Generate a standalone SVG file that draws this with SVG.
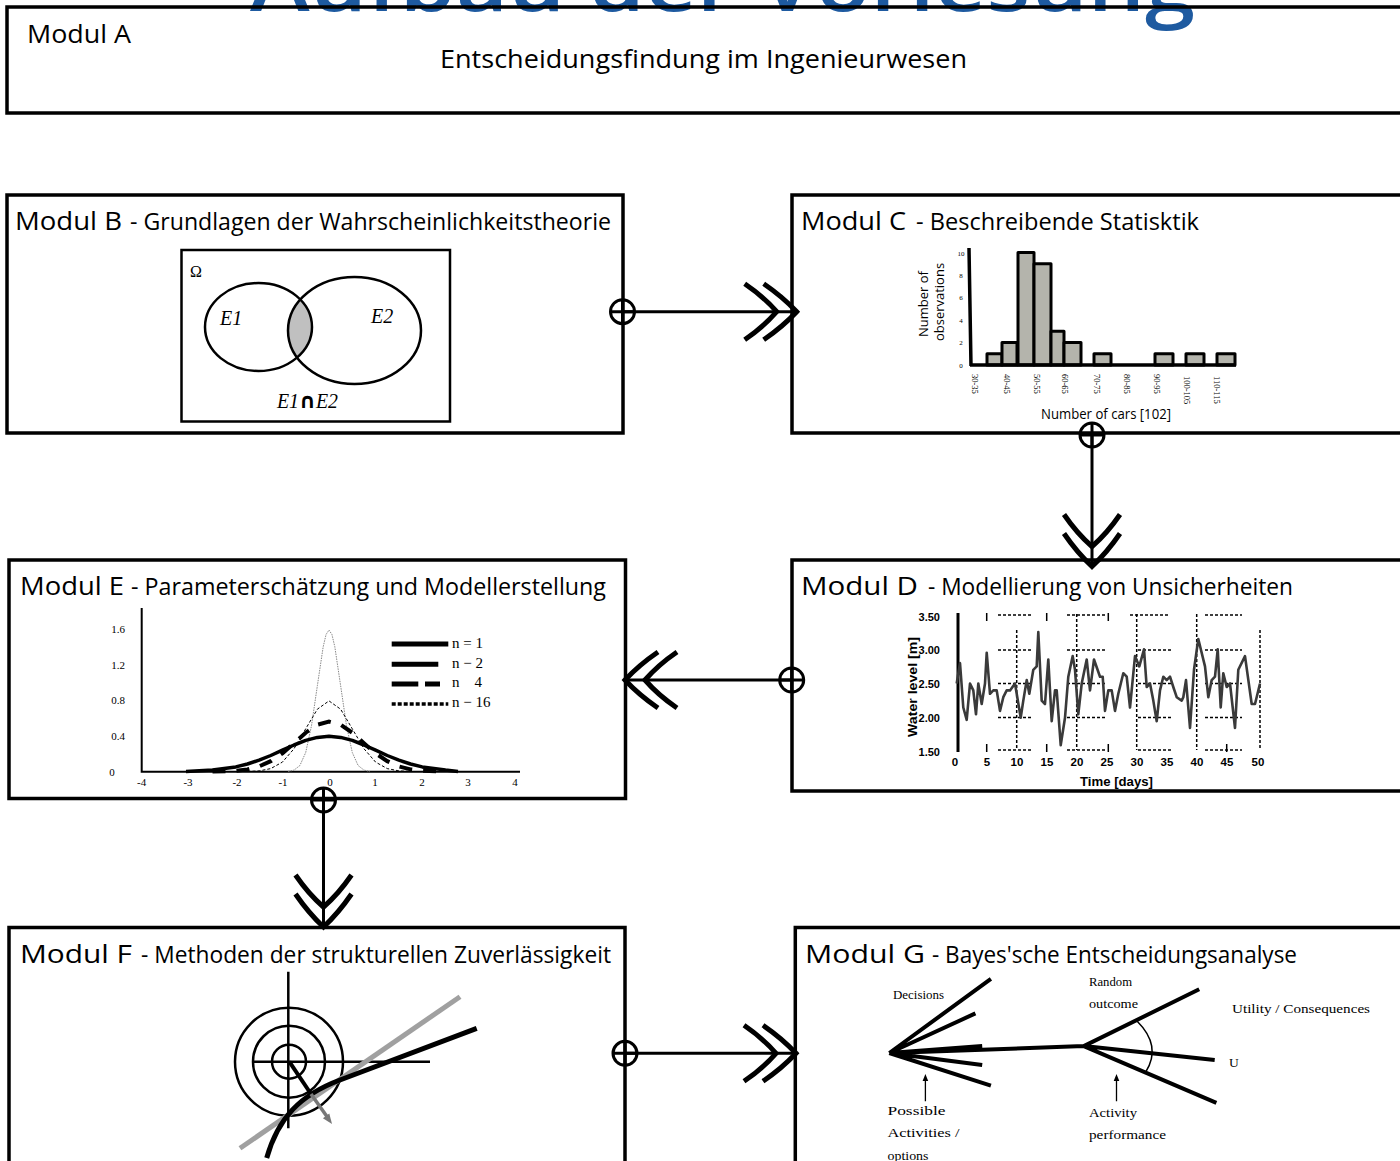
<svg xmlns="http://www.w3.org/2000/svg" width="1400" height="1161" viewBox="0 0 1400 1161">
<style>
.box{fill:none;stroke:#000;stroke-width:3.5}
.mt{font-family:'Open Sans','Liberation Sans',sans-serif;font-size:26px;fill:#000}
.st{font-family:'Open Sans','Liberation Sans',sans-serif;font-size:23px;fill:#000}
.sf{font-family:'Liberation Serif','Times New Roman',serif;fill:#000}
.ss{font-family:'Open Sans','Liberation Sans',sans-serif;fill:#000}
.bd{font-family:'Liberation Sans',Arial,sans-serif;font-weight:bold;fill:#000}
.bar{fill:#b4b4ac;stroke:#000;stroke-width:3;stroke-linejoin:round}
.grid{fill:none;stroke:#000;stroke-width:1.5;stroke-dasharray:3 2}
.conn{fill:none;stroke:#000;stroke-width:3;marker-end:url(#chev)}
.br{fill:none;stroke:#000;stroke-width:4;stroke-linecap:butt}
</style>
<defs>
<marker id="chev" markerUnits="userSpaceOnUse" viewBox="-60 -36 66 72" markerWidth="66" markerHeight="72" refX="0" refY="0" orient="auto" overflow="visible">
<path d="M-52,-28 Q-33,-15 -20,0 Q-33,15 -52,28 M-33,-28 Q-14,-15 0,0 Q-14,15 -33,28" fill="none" stroke="#000" stroke-width="5"/>
</marker>
<g id="jn"><circle r="12" fill="none" stroke="#000" stroke-width="3"/><path d="M-12,0H12M0,-12V12" stroke="#000" stroke-width="3"/></g>
<clipPath id="e1clip"><ellipse cx="258.5" cy="327" rx="53.5" ry="44"/></clipPath>
</defs>
<rect width="1400" height="1161" fill="#fff"/>

<text x="250" y="11" font-family="'Open Sans','Liberation Sans',sans-serif" font-size="82" font-weight="600" fill="#1e5aa0" textLength="945" lengthAdjust="spacingAndGlyphs">Aufbau der Vorlesung</text>

<g id="modul-a">
<rect class="box" x="7" y="7" width="1410" height="106"/>
<text class="mt" x="27" y="43" textLength="104" lengthAdjust="spacingAndGlyphs">Modul A</text>
<text class="mt" x="440" y="68" textLength="527" lengthAdjust="spacingAndGlyphs">Entscheidungsfindung im Ingenieurwesen</text>
</g>

<g id="modul-b">
<rect class="box" x="7" y="195" width="616" height="238"/>
<text class="mt" x="15" y="230" textLength="107" lengthAdjust="spacingAndGlyphs">Modul B</text>
<text class="st" x="130" y="230" textLength="481" lengthAdjust="spacingAndGlyphs">- Grundlagen der Wahrscheinlichkeitstheorie</text>
<rect x="181.5" y="250" width="268.5" height="171.5" fill="none" stroke="#000" stroke-width="2.5"/>
<ellipse cx="354.5" cy="330.5" rx="66.5" ry="53.5" fill="#c0c0c0" clip-path="url(#e1clip)"/>
<ellipse cx="258.5" cy="327" rx="53.5" ry="44" fill="none" stroke="#000" stroke-width="2.5"/>
<ellipse cx="354.5" cy="330.5" rx="66.5" ry="53.5" fill="none" stroke="#000" stroke-width="2.5"/>
<text class="sf" x="190" y="277" font-size="16">Ω</text>
<text class="sf" x="220" y="325" font-size="20" font-style="italic">E1</text>
<text class="sf" x="371" y="323" font-size="20" font-style="italic">E2</text>
<text class="sf" x="277" y="408" font-size="20" font-style="italic" textLength="61" lengthAdjust="spacingAndGlyphs">E1<tspan font-family="'DejaVu Sans',sans-serif" font-weight="bold" font-style="normal" font-size="21">∩</tspan>E2</text>
</g>

<g id="modul-c">
<rect class="box" x="792" y="195" width="620" height="238"/>
<text class="mt" x="801" y="230" textLength="105" lengthAdjust="spacingAndGlyphs">Modul C</text>
<text class="st" x="916" y="230" textLength="283" lengthAdjust="spacingAndGlyphs">- Beschreibende Statisktik</text>
<g class="ss" font-size="13" text-anchor="middle">
<text transform="translate(928,304) rotate(-90)">Number of</text>
<text transform="translate(944,302) rotate(-90)">observations</text>
</g>
<g class="sf" font-size="7" text-anchor="middle">
<text x="961" y="368">0</text><text x="961" y="345">2</text><text x="961" y="323">4</text><text x="961" y="300">6</text><text x="961" y="278">8</text><text x="961" y="256">10</text>
</g>
<rect class="bar" x="987" y="353.75" width="15" height="11.25"/>
<rect class="bar" x="1002" y="342.5" width="15" height="22.5"/>
<rect class="bar" x="1018" y="252.5" width="16" height="112.5"/>
<rect class="bar" x="1034" y="263.75" width="17" height="101.25"/>
<rect class="bar" x="1051" y="331.25" width="13" height="33.75"/>
<rect class="bar" x="1064" y="342.5" width="17" height="22.5"/>
<rect class="bar" x="1094" y="353.75" width="17" height="11.25"/>
<rect class="bar" x="1155" y="353.75" width="18" height="11.25"/>
<rect class="bar" x="1186" y="353.75" width="18" height="11.25"/>
<rect class="bar" x="1217" y="353.75" width="18" height="11.25"/>
<path d="M969,248 L971,366 M970,365 H1236" fill="none" stroke="#000" stroke-width="3.5"/>
<g class="sf" font-size="8.5">
<text transform="translate(972,374) rotate(90)">30-35</text>
<text transform="translate(1004,374) rotate(90)">40-45</text>
<text transform="translate(1034,374) rotate(90)">50-55</text>
<text transform="translate(1062,374) rotate(90)">60-65</text>
<text transform="translate(1094,374) rotate(90)">70-75</text>
<text transform="translate(1124,374) rotate(90)">80-85</text>
<text transform="translate(1154,374) rotate(90)">90-95</text>
<text transform="translate(1184,376) rotate(90)">100-105</text>
<text transform="translate(1214,376) rotate(90)">110-115</text>
</g>
<text class="ss" x="1041" y="419" font-size="14" textLength="130" lengthAdjust="spacingAndGlyphs">Number of cars [102]</text>
</g>

<g id="modul-d">
<rect class="box" x="792" y="560" width="620" height="231"/>
<text class="mt" x="801" y="595" textLength="117" lengthAdjust="spacingAndGlyphs">Modul D</text>
<text class="st" x="928" y="595" textLength="365" lengthAdjust="spacingAndGlyphs">- Modellierung von Unsicherheiten</text>
<g class="grid">
<path d="M1016.7,630V750M1076.7,614V750M1136.7,614V750M1196.7,614V750M1260,630V750"/>
<path d="M998,615H1033M1067,615H1107M1130,615H1170M1205,615H1242"/>
<path d="M998,650H1033M1067,650H1107M1138,650H1173M1205,650H1242"/>
<path d="M998,683.5H1033M1067,683.5H1107M1138,683.5H1173M1205,683.5H1242"/>
<path d="M998,717.5H1033M1067,717.5H1107M1138,717.5H1173M1205,717.5H1242"/>
<path d="M998,750H1033M1067,750H1107M1138,750H1173M1205,750H1242"/>
</g>
<path d="M986.7,613V621M1046.7,613V621M1108.3,613V621M986.7,744V752M1046.7,744V752M1108.3,744V752M1226.7,744V752" stroke="#000" stroke-width="1.5"/>
<path d="M958,613V752" stroke="#000" stroke-width="3"/>
<polyline fill="none" stroke="#3a3a3a" stroke-width="2.6" stroke-linejoin="round" points="956.7,683.5 960,663 963.3,707.5 966.7,719.8 970,683.5 973.3,690.4 976,714.3 978.3,683.5 981.7,704 985,683.5 986.7,652.7 990,693.8 993.3,690.4 996.7,690.4 1000,710.9 1003.3,697.2 1006.7,690.4 1010,690.4 1015,683.5 1020.7,717.8 1023.3,700.6 1026.7,680.1 1029.3,693.8 1033.3,669.8 1036.7,666.4 1038.3,632.1 1041.7,700.6 1045,704 1048.3,659.5 1051.7,721.2 1055,690.4 1056.7,690.4 1060.7,745.2 1065,717.8 1068.3,676.7 1072.7,656.1 1075,669.8 1078.3,714.3 1081.7,683.5 1086.7,659.5 1090,690.4 1094,659.5 1100,676.7 1102.7,676.7 1105,710.9 1108.3,690.4 1111.7,690.4 1115,710.9 1118.3,693.8 1123.3,673.2 1126.7,676.7 1130,707.5 1135,656.1 1139.3,666.4 1144,649.3 1146.7,687 1150,683.5 1153.3,700.6 1156.7,721.2 1160,690.4 1163.3,676.7 1166.7,680.1 1170,676.7 1173.3,687 1176.7,697.2 1181.7,700.6 1183.3,697.2 1186,680.1 1190,728 1194,669.8 1198.3,639 1205,666.4 1208.3,697.2 1211.7,680.1 1215,676.7 1217.7,649.3 1220.7,707.5 1223.3,673.2 1226.7,687 1230,683.5 1235,728 1238.3,669.8 1245,656.1 1251.7,704 1255,704 1260,683.5"/>
<g class="bd" font-size="11" text-anchor="end">
<text x="940" y="621">3.50</text><text x="940" y="654">3.00</text><text x="940" y="687.5">2.50</text><text x="940" y="721.5">2.00</text><text x="940" y="755.5">1.50</text>
</g>
<g class="bd" font-size="11.5" text-anchor="middle">
<text x="955" y="766">0</text><text x="987" y="766">5</text><text x="1017" y="766">10</text><text x="1047" y="766">15</text><text x="1077" y="766">20</text><text x="1107" y="766">25</text><text x="1137" y="766">30</text><text x="1167" y="766">35</text><text x="1197" y="766">40</text><text x="1227" y="766">45</text><text x="1258" y="766">50</text>
</g>
<text class="bd" font-size="12" transform="translate(916.5,737) rotate(-90)" textLength="100" lengthAdjust="spacingAndGlyphs">Water level [m]</text>
<text class="bd" x="1080" y="786" font-size="13" textLength="73" lengthAdjust="spacingAndGlyphs">Time [days]</text>
</g>

<g id="modul-e">
<rect class="box" x="9" y="560" width="616.5" height="238.5"/>
<text class="mt" x="20" y="595" textLength="104" lengthAdjust="spacingAndGlyphs">Modul E</text>
<text class="st" x="131" y="595" textLength="475" lengthAdjust="spacingAndGlyphs">- Parameterschätzung und Modellerstellung</text>
<path d="M141.7,608V771.7H520" fill="none" stroke="#000" stroke-width="2"/>
<g class="sf" font-size="11" text-anchor="middle">
<text x="118" y="633">1.6</text><text x="118" y="669">1.2</text><text x="118" y="704">0.8</text><text x="118" y="740">0.4</text><text x="112" y="775.5">0</text>
<text x="141.7" y="786">-4</text><text x="188" y="786">-3</text><text x="237" y="786">-2</text><text x="283" y="786">-1</text><text x="330" y="786">0</text><text x="375" y="786">1</text><text x="422" y="786">2</text><text x="468" y="786">3</text><text x="515" y="786">4</text>
</g>
<polyline fill="none" stroke="#888" stroke-width="1" stroke-dasharray="1.5 1" points="288.2,771.4 294.05,770.1 299.9,765.5 305.7,752.5 311.5,725.7 317.35,685.8 323.2,646.7 326.1,634.4 329,630.1 331.9,634.4 334.8,646.7 340.65,685.8 346.5,725.7 352.3,752.5 358.1,765.5 363.95,770.1 369.8,771.4"/>
<polyline fill="none" stroke="#000" stroke-width="1" stroke-dasharray="3 2" points="247.45,771.5 259.1,770.9 270.75,768.6 282.4,762.1 294.05,748.7 305.7,728.8 317.35,709.2 329,700.9 340.65,709.2 352.3,728.8 363.95,748.7 375.6,762.1 387.25,768.6 398.9,770.9 410.55,771.5"/>
<polyline fill="none" stroke="#000" stroke-width="4" stroke-dasharray="13 11" points="212.5,771.6 235.8,770.8 247.45,769.4 259.1,766.4 270.75,761.2 282.4,753.3 294.05,743.2 305.7,732.7 317.35,724.7 329,721.6 340.65,724.7 352.3,732.7 363.95,743.2 375.6,753.3 387.25,761.2 398.9,766.4 410.55,769.4 422.2,770.8 445.5,771.6"/>
<polyline fill="none" stroke="#000" stroke-width="3.5" stroke-linejoin="round" points="186,771.4 212.5,770.1 235.8,766.9 247.45,764 259.1,760.2 270.75,755.5 282.4,750.2 294.05,745 305.7,740.4 317.35,737.4 329,736.3 340.65,737.4 352.3,740.4 363.95,745 375.6,750.2 387.25,755.5 398.9,760.2 410.55,764 422.2,766.9 445.5,770.1 458,771.4"/>
<path d="M391.7,644H448.3M391.7,664.3H438.3M391.7,684H418.3M425,684H440" stroke="#000" stroke-width="5"/>
<path d="M391.7,704H448.3" stroke="#000" stroke-width="3.5" stroke-dasharray="4 2"/>
<g class="sf" font-size="15">
<text x="452" y="648">n = 1</text><text x="452" y="668">n − 2</text><text x="452" y="687" xml:space="preserve">n    4</text><text x="452" y="707">n − 16</text>
</g>
</g>

<g id="modul-f">
<rect class="box" x="9" y="927.5" width="616" height="250"/>
<text class="mt" x="20" y="963" textLength="112" lengthAdjust="spacingAndGlyphs">Modul F</text>
<text class="st" x="141" y="963" textLength="470" lengthAdjust="spacingAndGlyphs">- Methoden der strukturellen Zuverlässigkeit</text>
<path d="M288.3,971.7V1128.3M253.3,1061.7H430" stroke="#000" stroke-width="2.5"/>
<g fill="none" stroke="#000" stroke-width="2.5">
<circle cx="289" cy="1061.7" r="17"/><circle cx="289" cy="1061.7" r="36"/><circle cx="289" cy="1061.7" r="54"/>
</g>
<path d="M240,1148.3L460,996.7" stroke="#a0a0a0" stroke-width="5"/>
<path d="M266.7,1158 C278,1118 300,1095 340,1080 L476.7,1028.3" fill="none" stroke="#000" stroke-width="5"/>
<path d="M289.3,1061.7L311,1094" stroke="#000" stroke-width="4"/>
<path d="M311,1094L328,1118" stroke="#777" stroke-width="3.5"/>
<polygon points="332,1124 322.9,1118.2 329.3,1113.6" fill="#777"/>
</g>

<g id="modul-g">
<rect class="box" x="795.3" y="927.5" width="620" height="250"/>
<text class="mt" x="805" y="963" textLength="120" lengthAdjust="spacingAndGlyphs">Modul G</text>
<text class="st" x="932" y="963" textLength="365" lengthAdjust="spacingAndGlyphs">- Bayes'sche Entscheidungsanalyse</text>
<path class="br" d="M889.3,1053L990.9,978.9M889.3,1053L975.4,1013.4M889.3,1053L982.2,1046.1M889.3,1053L982.2,1065M889.3,1053L990.9,1085.7M889.3,1053L1083.8,1046.1M1083.8,1046.1L1199.2,989.3M1083.8,1046.1L1214.7,1059.9M1083.8,1046.1L1216.4,1102.9"/>
<path d="M1137.2,1021.3Q1162,1046 1145.8,1071.9" fill="none" stroke="#000" stroke-width="1.5"/>
<path d="M925.4,1101.2V1079M1116.5,1101.2V1079" stroke="#000" stroke-width="1.3"/>
<path d="M925.4,1074L922.6,1081H928.2ZM1116.5,1074L1113.7,1081H1119.3Z" fill="#000"/>
<g class="sf" font-size="13.5" fill="#222">
<text x="893" y="998.6" textLength="51" lengthAdjust="spacingAndGlyphs">Decisions</text>
<text x="1089" y="986" textLength="43" lengthAdjust="spacingAndGlyphs">Random</text>
<text x="1089" y="1008" textLength="49" lengthAdjust="spacingAndGlyphs">outcome</text>
<text x="1232" y="1013.4" textLength="138" lengthAdjust="spacingAndGlyphs">Utility / Consequences</text>
<text x="1229" y="1066.7">U</text>
<text x="887.5" y="1115" textLength="58" lengthAdjust="spacingAndGlyphs">Possible</text>
<text x="887.5" y="1137.3" textLength="72" lengthAdjust="spacingAndGlyphs">Activities /</text>
<text x="887.5" y="1159.7" textLength="41" lengthAdjust="spacingAndGlyphs">options</text>
<text x="1089" y="1116.7" textLength="48" lengthAdjust="spacingAndGlyphs">Activity</text>
<text x="1089" y="1139" textLength="77" lengthAdjust="spacingAndGlyphs">performance</text>
</g>
</g>

<g id="connectors">
<path class="conn" d="M622.5,311.7H796.7"/>
<path class="conn" d="M1092,435V566.5"/>
<path class="conn" d="M791.7,680H625"/>
<path class="conn" d="M323.5,800V927"/>
<path class="conn" d="M625,1053.3H796"/>
<use href="#jn" x="622.5" y="311.7"/>
<use href="#jn" x="1092" y="435"/>
<use href="#jn" x="791.7" y="680"/>
<use href="#jn" x="323.5" y="800"/>
<use href="#jn" x="625" y="1053.3"/>
</g>
</svg>
